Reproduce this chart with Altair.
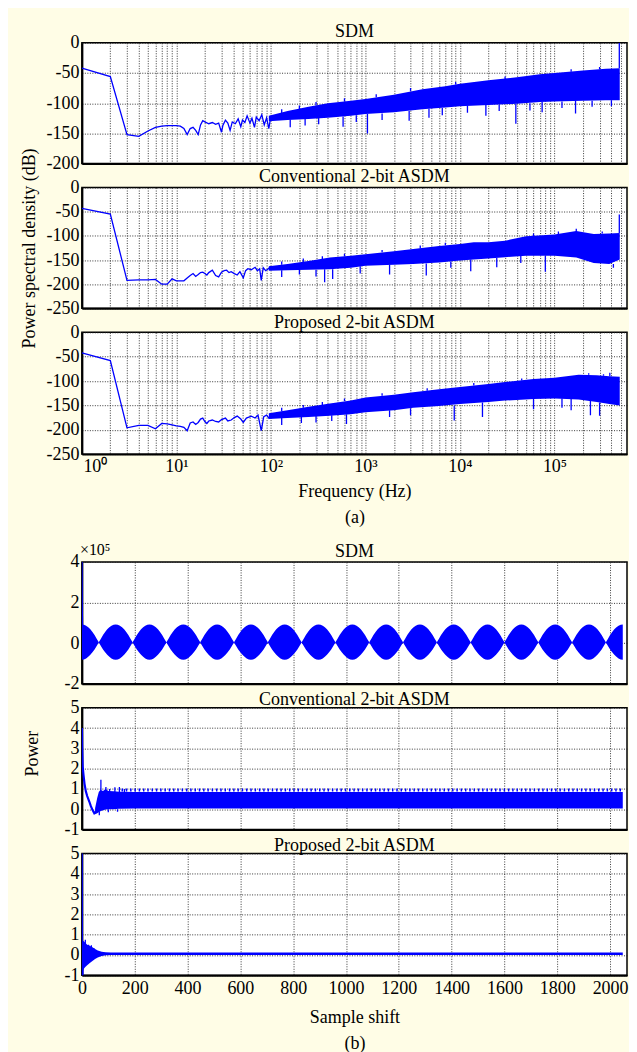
import altair as alt
import pandas as pd

FONT = "Liberation Serif"
BLUE = "#0000ff"
BG = "#fffde6"

F_MAX = 585000
S_MAX = 2064

# ---------------- (a) power spectral density ----------------
a1_line_f = [1,2,3,4,5,6,7,8,9,10,11,12,13,14,15,16,17,18,19,20,22,24,26,28,30,31,33,35,37,39,42,45,48,50,53,56,60,63,67,70,75,80,85,90,95,100]
a1_line_db = [-42,-56,-152,-155,-146,-140,-138,-137,-137,-137,-138,-142,-152,-142,-140,-145,-152,-136,-129,-131,
              -134,-132,-135,-133,-148,-137,-128,-133,-145,-131,-134,-126,-139,-128,-132,-121,-133,-125,-140,-123,
              -129,-119,-136,-124,-142,-121]
a1_band_f = [95,150,250,400,700,1000,2000,4000,7000,10000,20000,40000,70000,100000,200000,350000,490000]
a1_band_top = [-121,-113,-106,-100,-96,-93,-86,-77,-72,-68,-62,-57,-52,-50,-46,-43,-42]
a1_band_bot = [-130,-128,-126,-124,-121,-118,-115,-110,-107,-105,-103,-101,-98,-97,-96,-95,-95]
a1_spk_f = [160,230,320,580,800,1050,1500,2900,4700,6500,12000,18800,26000,39000,55000,74000,120000,167000,250000,400000,485000,
            130,200,300,600,1300,3000,9000,30000,150000,300000]
a1_spk_from = [-127,-125,-124,-122,-120,-118,-117,-113,-109,-108,-104,-103,-102,-101,-100,-98,-97,-96,-96,-95,-42,
               -117,-110,-104,-97,-90,-80,-69,-60,-48,-44]
a1_spk_to = [-140,-137,-135,-139,-131,-150,-128,-129,-124,-120,-116,-121,-113,-134,-112,-115,-108,-117,-106,-105,0,
             -110,-104,-98,-92,-85,-75,-65,-56,-44,-40]

a2_line_f = [1,2,3,4,5,6,7,8,9,10,11,12,13,14,15,16,17,18,19,20,21,22,24,26,28,30,32,34,36,38,41,44,47,51,54,57,62,68,72,76,79,83,88,94,100]
a2_line_db = [-43,-55,-192,-191,-191,-190,-200,-200,-189,-193,-193,-193,-187,-182,-178,-184,-180,-176,-175,-178,
              -181,-176,-171,-182,-185,-175,-172,-171,-176,-174,-178,-181,-174,-187,-172,-168,
              -170,-165,-172,-168,-192,-166,-172,-168,-163]
a2_band_f = [95,150,250,420,700,1000,2000,3200,6000,10000,14000,20000,30000,50000,100000,170000,260000,380000,490000]
a2_band_top = [-163,-158,-152,-145,-141,-138,-132,-127,-121,-117,-113,-113,-110,-101,-97,-90,-96,-95,-94]
a2_band_bot = [-172,-171,-170,-169,-166,-162,-160,-158,-155,-151,-149,-147,-144,-141,-141,-145,-156,-158,-149]
a2_spk_f = [130,200,300,370,450,880,1800,4400,8000,13000,24500,44000,80000,170000,420000,485000,
            130,220,350,600,1500,3800,7000,60000,110000,320000]
a2_spk_from = [-171,-170,-170,-169,-169,-163,-160,-157,-153,-149,-146,-141,-141,-92,-158,-94,
               -160,-154,-148,-142,-134,-126,-119,-100,-96,-95]
a2_spk_to = [-185,-180,-184,-196,-189,-178,-180,-182,-166,-173,-165,-156,-174,-85,-166,-56,
             -153,-147,-142,-137,-129,-120,-114,-95,-91,-91]

a3_line_f = [1,2,3,4,5,6,7,8,9,10,11,12,13,14,15,16,17,18,19,20,21,22,24,26,28,30,33,35,38,41,44,48,51,55,62,68,73,79,84,90,95,100]
a3_line_db = [-42,-58,-196,-191,-191,-198,-187,-188,-190,-192,-193,-195,-202,-186,-184,-189,-185,-178,-176,-183,
              -187,-182,-180,-183,-184,-179,-176,-182,-180,-175,-172,-178,-185,-176,-172,-176,-170,-202,-173,-170,
              -176,-168]
a3_band_f = [95,150,250,420,700,1000,2000,3200,6000,10000,20000,30000,60000,100000,180000,280000,380000,490000]
a3_band_top = [-166,-160,-153,-146,-140,-134,-128,-123,-117,-112,-106,-102,-96,-93,-87,-88,-90,-91]
a3_band_bot = [-178,-176,-174,-171,-168,-164,-160,-155,-151,-147,-143,-140,-137,-136,-138,-143,-147,-150]
a3_spk_f = [130,210,300,440,630,1800,3000,8700,17300,60000,120000,150000,240000,300000,385000,
            130,220,350,600,1500,4500,14000,45000,230000,330000]
a3_spk_from = [-176,-174,-172,-170,-168,-160,-156,-150,-144,-137,-136,-137,-140,-144,-90,
               -162,-155,-149,-141,-130,-120,-109,-99,-87,-89]
a3_spk_to = [-190,-186,-185,-182,-188,-174,-170,-181,-174,-158,-155,-160,-170,-171,-83,
             -155,-149,-143,-136,-125,-115,-104,-95,-84,-86]

freq_ticks = [m * 10 ** k for k in range(6) for m in range(1, 10) if m * 10 ** k < F_MAX]

# ---------------- (b) autocorrelation ----------------
b1_nodes = [64,192,320,448,576,704,832,960,1088,1216,1344,1472,1600,1728,1856,1984]
b1_half_dx = [0,8,16,24,32,40,48,56,64]
b1_half_hi = [0.05,0.22,0.40,0.55,0.68,0.78,0.86,0.91,0.92]
b1_half_lo = [0.03,-0.14,-0.31,-0.45,-0.57,-0.67,-0.75,-0.80,-0.82]
b1_head_s = [0,1,2]
b1_head_v = [4.2,1.8,0.9]

b2_line_s = [0,1,3,6,10,15,20,28,34,40,47,54]
b2_line_v = [4.0,3.0,2.1,1.7,1.25,0.88,0.65,0.38,0.15,-0.03,-0.2,-0.12]
b2_band_s = [50,58,64,70,80,90,100,120,140,200,2048]
b2_band_top = [0.05,0.55,0.85,0.95,0.9,1.0,0.9,0.88,0.86,0.85,0.85]
b2_band_bot = [-0.25,-0.2,-0.15,-0.1,-0.05,-0.02,0.0,0.0,0.02,0.03,0.03]
b2_spk_s = [66,72,91,105,125,142,161,100,135]
b2_spk_from = [-0.1,0.9,0.95,0.85,0.85,0.85,0.85,0.0,0.0]
b2_spk_to = [-0.3,1.45,1.1,1.0,1.08,1.09,1.0,-0.15,-0.12]
b2_comb_s = [150,2048]
b2_comb_v = [0.95,0.95]

b3_line_s = [0,1,2]
b3_line_v = [5.3,-1.3,0.6]
b3_band_s = [2,6,12,20,30,40,50,60,75,90,110,140,2048]
b3_band_top = [0.6,0.7,0.62,0.5,0.45,0.38,0.3,0.22,0.16,0.14,0.12,0.12,0.12]
b3_band_bot = [-0.9,-0.7,-0.6,-0.5,-0.4,-0.3,-0.2,-0.12,-0.05,-0.01,0.0,0.0,0.0]
b3_spk_s = [4,13,25,36,45]
b3_spk_from = [-0.2,-0.3,-0.3,-0.2,-0.1]
b3_spk_to = [-1.1,0.75,0.5,0.48,0.35]

shift_ticks = [0,200,400,600,800,1000,1200,1400,1600,1800,2000]

DEC_EXPR = ("datum.value == 1 ? '10\u2070' : datum.value == 10 ? '10\u00b9' : datum.value == 100 ? '10\u00b2' : "
            "datum.value == 1000 ? '10\u00b3' : datum.value == 10000 ? '10\u2074' : datum.value == 100000 ? '10\u2075' : ''")
NUM_EXPR = "'' + datum.value"

PW = 546   # panel width (all panels share the same left edge)


def text_layer(txt, x, y, size=18, angle=0, align="center", baseline="middle"):
    return alt.Chart(pd.DataFrame({"t": [txt]})).mark_text(
        font=FONT, fontSize=size, color="black", angle=angle, align=align, baseline=baseline
    ).encode(x=alt.value(x), y=alt.value(y), text="t:N")


def psd_panel(title, ty, h, lf, ldb, bf, btop, bbot, sf, s1, s2, ylo, show_x, extra=None):
    xs = alt.Scale(type="log", domain=[1, F_MAX], nice=False)
    ys = alt.Scale(domain=[ylo, 0], nice=False, zero=False)
    if show_x:
        xaxis = alt.Axis(values=freq_ticks, grid=True, labels=True, labelExpr=DEC_EXPR, labelFlush=True,
                         labelFlushOffset=-1, labelPadding=3, title=["Frequency (Hz)", "(a)"], titlePadding=7,
                         titleLineHeight=26)
    else:
        xaxis = alt.Axis(values=freq_ticks, grid=True, labels=False, title=None)
    yaxis = alt.Axis(values=list(range(ylo, 1, 50)), grid=True, labelExpr=NUM_EXPR, title=None)
    band = alt.Chart(pd.DataFrame({"f": bf, "top": btop, "bot": bbot})).mark_area(color=BLUE, clip=True).encode(
        x=alt.X("f:Q", scale=xs, axis=xaxis), y=alt.Y("top:Q", scale=ys, axis=yaxis), y2="bot:Q")
    line = alt.Chart(pd.DataFrame({"f": lf, "v": ldb})).mark_line(color=BLUE, strokeWidth=1.3, clip=True).encode(
        x=alt.X("f:Q", scale=xs, axis=xaxis), y=alt.Y("v:Q", scale=ys, axis=yaxis))
    spikes = alt.Chart(pd.DataFrame({"f": sf, "a": s1, "b": s2})).mark_rule(color=BLUE, strokeWidth=1.3, clip=True).encode(
        x=alt.X("f:Q", scale=xs, axis=xaxis), y=alt.Y("a:Q", scale=ys, axis=yaxis), y2="b:Q")
    layers = [band, line, spikes, text_layer(title, PW / 2, ty)]
    if extra is not None:
        layers.append(extra)
    return alt.layer(*layers).properties(width=PW, height=h)


def acf_axes(ydom, yvals, show_x):
    xs = alt.Scale(domain=[0, S_MAX], nice=False, zero=False)
    ys = alt.Scale(domain=ydom, nice=False, zero=False)
    if show_x:
        xaxis = alt.Axis(values=shift_ticks, grid=True, labels=True, labelExpr=NUM_EXPR, labelFlush=False,
                         labelPadding=4, title=["Sample shift", "(b)"], titlePadding=11, titleLineHeight=26)
    else:
        xaxis = alt.Axis(values=shift_ticks, grid=True, labels=False, title=None)
    yaxis = alt.Axis(values=yvals, grid=True, labelExpr=NUM_EXPR, title=None)
    return xs, ys, xaxis, yaxis


def area_layer(s, top, bot, xs, ys, xaxis, yaxis):
    return alt.Chart(pd.DataFrame({"s": s, "top": top, "bot": bot})).mark_area(color=BLUE, clip=True).encode(
        x=alt.X("s:Q", scale=xs, axis=xaxis), y=alt.Y("top:Q", scale=ys, axis=yaxis), y2="bot:Q")


def line_layer(s, v, xs, ys, xaxis, yaxis, width=1.3, dash=None):
    mk = alt.Chart(pd.DataFrame({"s": s, "v": v}))
    if dash:
        mk = mk.mark_line(color=BLUE, strokeWidth=width, strokeDash=dash, clip=True)
    else:
        mk = mk.mark_line(color=BLUE, strokeWidth=width, clip=True)
    return mk.encode(x=alt.X("s:Q", scale=xs, axis=xaxis), y=alt.Y("v:Q", scale=ys, axis=yaxis))


def rule_layer(s, a, b, xs, ys, xaxis, yaxis):
    return alt.Chart(pd.DataFrame({"s": s, "a": a, "b": b})).mark_rule(color=BLUE, strokeWidth=1.3, clip=True).encode(
        x=alt.X("s:Q", scale=xs, axis=xaxis), y=alt.Y("a:Q", scale=ys, axis=yaxis), y2="b:Q")


# panel a
a1 = psd_panel("SDM", -11, 121, a1_line_f, a1_line_db, a1_band_f, a1_band_top, a1_band_bot,
               a1_spk_f, a1_spk_from, a1_spk_to, -200, False)
a2 = psd_panel("Conventional 2-bit ASDM", -11, 121, a2_line_f, a2_line_db, a2_band_f, a2_band_top, a2_band_bot,
               a2_spk_f, a2_spk_from, a2_spk_to, -250, False,
               extra=text_layer("Power spectral density (dB)", -52, 61, angle=270))
a3 = psd_panel("Proposed 2-bit ASDM", -9, 122, a3_line_f, a3_line_db, a3_band_f, a3_band_top, a3_band_bot,
               a3_spk_f, a3_spk_from, a3_spk_to, -250, True)

# panel b1 table from lobe nodes and half-lobe profile
rows = []
for n in b1_nodes:
    for dx, hi, lo in zip(b1_half_dx, b1_half_hi, b1_half_lo):
        for s in (n - dx, n + dx):
            if 0 <= s <= 2048:
                rows.append((s, hi, lo))
b1_df = pd.DataFrame(rows, columns=["s", "top", "bot"]).drop_duplicates("s").sort_values("s")

xs, ys, xa, ya = acf_axes([-2, 4], [-2, 0, 2, 4], False)
b1 = alt.layer(
    area_layer(list(b1_df["s"]), list(b1_df["top"]), list(b1_df["bot"]), xs, ys, xa, ya),
    line_layer(b1_head_s, b1_head_v, xs, ys, xa, ya, width=1.5),
    text_layer("SDM", PW / 2, -10),
    text_layer("\u00d710\u2075", -2, -12, size=16, align="left"),
).properties(width=PW, height=122)

xs, ys, xa, ya = acf_axes([-1, 5], [-1, 0, 1, 2, 3, 4, 5], False)
b2 = alt.layer(
    area_layer(b2_band_s, b2_band_top, b2_band_bot, xs, ys, xa, ya),
    line_layer(b2_line_s, b2_line_v, xs, ys, xa, ya, width=2.2),
    rule_layer(b2_spk_s, b2_spk_from, b2_spk_to, xs, ys, xa, ya),
    line_layer(b2_comb_s, b2_comb_v, xs, ys, xa, ya, width=3, dash=[1.5, 2.8]),
    text_layer("Conventional 2-bit ASDM", PW / 2, -8),
    text_layer("Power", -49, 46, angle=270),
).properties(width=PW, height=122)

xs, ys, xa, ya = acf_axes([-1, 5], [-1, 0, 1, 2, 3, 4, 5], True)
b3 = alt.layer(
    area_layer(b3_band_s, b3_band_top, b3_band_bot, xs, ys, xa, ya),
    line_layer(b3_line_s, b3_line_v, xs, ys, xa, ya, width=1.8),
    rule_layer(b3_spk_s, b3_spk_from, b3_spk_to, xs, ys, xa, ya),
    text_layer("Proposed 2-bit ASDM", PW / 2, -7),
).properties(width=PW, height=122)

# invisible gap between the (a) and (b) groups
gap = alt.Chart(pd.DataFrame({"v": [0]})).mark_point(opacity=0).encode(
    x=alt.value(0), y=alt.value(0)
).properties(width=1, height=60, view=alt.ViewBackground(strokeOpacity=0, fillOpacity=0))

chart = alt.vconcat(a1, a2, a3, gap, b1, b2, b3, spacing=24, bounds="flush").configure(
    background=BG,
    padding={"left": 12, "top": 13, "right": 0, "bottom": 0},
    font=FONT,
).configure_view(
    stroke="black", strokeWidth=1.5, fill="white"
).configure_axis(
    labelFont=FONT, labelFontSize=18, labelColor="black",
    titleFont=FONT, titleFontSize=18, titleFontWeight="normal", titleColor="black",
    gridColor="#222222", gridDash=[1, 1.5], gridWidth=0.9, gridOpacity=1,
    domainColor="black", domainWidth=2, ticks=False, labelPadding=3,
)

chart.save("out.html", embed_options={"renderer": "svg", "actions": False})
